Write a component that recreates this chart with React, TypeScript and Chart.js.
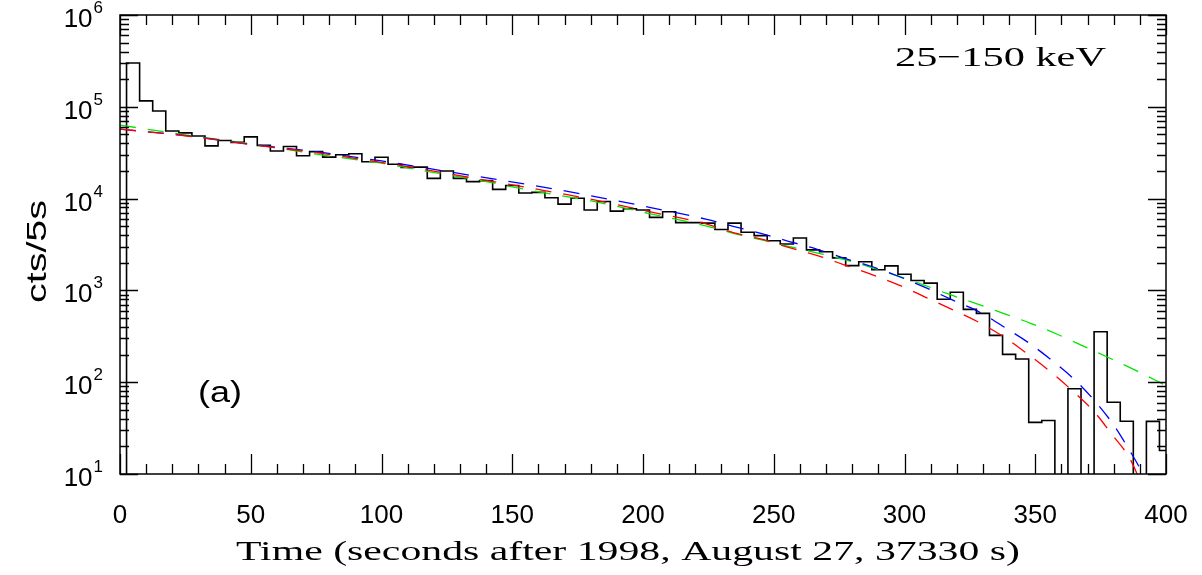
import React, { useEffect, useRef } from 'react';
import { Chart, registerables } from 'chart.js';

Chart.register(...registerables);

// ---- data ----
const binStart = 2.5; // left edge of the first 5 s bin
const binWidth = 5;
// counts per 5 s bin; 0 = empty bin (drawn down to the bottom of the axis)
const counts = [
  300000, 116000, 90000, 54500, 52000, 48000, 37500, 43000, 41000, 47000,
  38000, 33000, 37000, 29300, 32500, 28300, 30000, 30800, 25200, 28200,
  23700, 21900, 22000, 16600, 20000, 16600, 15300, 15700, 12600, 13900,
  11500, 11700, 10200, 8700, 10100, 7500, 9300, 7300, 7760, 7500,
  6250, 7200, 5470, 5470, 5400, 4600, 5400, 4300, 3950, 3470,
  3200, 3720, 2760, 2640, 2260, 1860, 2050, 1680, 1850, 1500,
  1280, 1200, 800, 953, 622, 562, 324, 201, 179, 36.5,
  38.3, 0, 85, 0, 355, 60.5, 37.5, 0, 37.4, 18,
];

const greenTime = [0, 25, 50, 75, 100, 113.7, 135.8, 157.8, 179.7, 202, 224.4, 234.5, 245.4, 255.6, 266.4, 277.2, 287.8, 298.3, 305.5, 316.4, 327.2, 337.8, 348.2, 358.4, 368.6, 379, 389, 400];
const greenCounts = [63100, 49500, 39500, 30500, 24300, 20700, 16100, 12200, 9480, 6920, 5020, 4190, 3550, 3020, 2570, 2160, 1760, 1410, 1200, 920, 723, 562, 438, 333, 246, 180, 132, 91.8];

const blueTime = [0, 25, 50, 75, 100, 113.7, 135.8, 157.8, 179.7, 202, 224.4, 234.5, 245.4, 255.6, 266.4, 277.2, 287.8, 298.3, 307.2, 318.9, 329.3, 338.9, 348.1, 357, 365.6, 373.2, 380, 385.9, 390, 392];
const blueCounts = [57000, 48600, 39100, 32400, 25700, 22300, 17600, 14000, 10800, 8090, 5940, 4990, 4150, 3430, 2820, 2230, 1810, 1400, 1100, 773, 568, 386, 261, 167, 103, 60.4, 34.2, 18.4, 11.5, 8.5];

const redTime = [0, 25, 50, 75, 100, 113.7, 135.8, 157.8, 179.7, 202, 224.4, 234.5, 245.4, 255.6, 266.4, 277.2, 287.8, 299.6, 308.1, 318.3, 328, 337.9, 347, 355.8, 364.2, 372.3, 379.2, 385.9, 390.5];
const redCounts = [57000, 48400, 38800, 31600, 24800, 21400, 16600, 12900, 9910, 7260, 5280, 4260, 3610, 2940, 2410, 1890, 1480, 1090, 841, 617, 456, 313, 204, 130, 80.7, 48.5, 27.3, 15.2, 8.0];

const xTickLabels = [0, 50, 100, 150, 200, 250, 300, 350, 400];
const xMinorStep = 10;
const yDecadeExponents = [1, 2, 3, 4, 5, 6];
const xTitle = 'Time (seconds after 1998, August 27, 37330 s)';
const yTitle = 'cts/5s';
const energyLabel = '25\u2212150 keV';
const panelLabel = '(a)';

const SANS = '"Liberation Sans", Arial, sans-serif';
const SERIF = '"Liberation Serif", "Times New Roman", serif';

function drawStretched(ctx: CanvasRenderingContext2D, text: string, font: string, left: number, baseline: number, width: number) {
  ctx.font = font;
  const w = ctx.measureText(text).width;
  ctx.save();
  ctx.translate(left, baseline);
  ctx.scale(width / w, 1);
  ctx.textAlign = 'left';
  ctx.textBaseline = 'alphabetic';
  ctx.fillText(text, 0, 0);
  ctx.restore();
}

const framePlugin = {
  id: 'pgplotFrame',
  afterDatasetsDraw(chart: any) {
    const { ctx, chartArea: a, scales } = chart;
    const xs = scales.x;
    const ys = scales.y;
    ctx.save();
    ctx.fillStyle = '#000';
    ctx.strokeStyle = '#000';

    // ticks
    ctx.lineWidth = 1.3;
    ctx.beginPath();
    for (let v = xs.min; v <= xs.max; v += xMinorStep) {
      const px = Math.round(xs.getPixelForValue(v)) + 0.5;
      const len = v % 50 === 0 ? 20 : 10;
      ctx.moveTo(px, a.bottom);
      ctx.lineTo(px, a.bottom - len);
      ctx.moveTo(px, a.top);
      ctx.lineTo(px, a.top + len);
    }
    for (const e of yDecadeExponents) {
      for (let m = 1; m <= 9; m++) {
        const v = m * Math.pow(10, e);
        if (v > ys.max) break;
        const py = Math.round(ys.getPixelForValue(v)) + 0.5;
        const len = m === 1 ? 18 : 9;
        ctx.moveTo(a.left, py);
        ctx.lineTo(a.left + len, py);
        ctx.moveTo(a.right, py);
        ctx.lineTo(a.right - len, py);
      }
    }
    ctx.stroke();

    // frame
    ctx.lineWidth = 1.5;
    ctx.strokeRect(a.left, a.top, a.right - a.left, a.bottom - a.top);

    // x tick labels
    ctx.font = '26px ' + SANS;
    ctx.textAlign = 'center';
    ctx.textBaseline = 'alphabetic';
    for (const v of xTickLabels) {
      ctx.fillText(String(v), xs.getPixelForValue(v), 523);
    }

    // y tick labels 10^n
    for (const e of yDecadeExponents) {
      const py = ys.getPixelForValue(Math.pow(10, e));
      ctx.font = '17px ' + SANS;
      ctx.textAlign = 'right';
      ctx.fillText(String(e), 103, py - 2);
      const sw = ctx.measureText(String(e)).width;
      ctx.font = '26px ' + SANS;
      ctx.fillText('10', 103 - sw - 1, py + 12);
    }

    // axis titles
    drawStretched(ctx, xTitle, '27px ' + SERIF, 236, 560, 784);
    ctx.save();
    ctx.translate(46, 303);
    ctx.rotate(-Math.PI / 2);
    drawStretched(ctx, yTitle, '28px ' + SANS, 0, 0, 103);
    ctx.restore();

    // annotations
    drawStretched(ctx, energyLabel, '28px ' + SERIF, 895, 66, 211);
    drawStretched(ctx, panelLabel, '30px ' + SANS, 198, 402, 44);

    ctx.restore();
  },
};

export default function App() {
  const canvasRef = useRef<HTMLCanvasElement | null>(null);

  useEffect(() => {
    const canvas = canvasRef.current;
    if (!canvas) return;

    const yMin = 10;
    // empty bins (and the outer edges) drop below the axis; clipped at the frame
    const floor = (c: number) => (c > 0 ? c : yMin / 10);

    const histPoints: { x: number; y: number }[] = [{ x: binStart, y: floor(0) }];
    counts.forEach((c, k) => {
      const left = binStart + k * binWidth;
      histPoints.push({ x: left, y: floor(c) });
      histPoints.push({ x: left + binWidth, y: floor(c) });
    });
    histPoints.push({ x: binStart + counts.length * binWidth, y: floor(0) });

    const curve = (t: number[], c: number[]) => t.map((x, i) => ({ x, y: c[i] }));

    const chart = new Chart(canvas, {
      type: 'line',
      data: {
        datasets: [
          {
            label: 'green model',
            data: curve(greenTime, greenCounts),
            borderColor: 'rgb(0,230,0)',
            borderWidth: 1.3,
            borderDash: [16, 12],
            pointRadius: 0,
            cubicInterpolationMode: 'monotone',
            fill: false,
            order: 2,
          },
          {
            label: 'blue model',
            data: curve(blueTime, blueCounts),
            borderColor: 'rgb(0,0,255)',
            borderWidth: 1.3,
            borderDash: [16, 12],
            pointRadius: 0,
            cubicInterpolationMode: 'monotone',
            fill: false,
            order: 1,
          },
          {
            label: 'red model',
            data: curve(redTime, redCounts),
            borderColor: 'rgb(255,0,0)',
            borderWidth: 1.3,
            borderDash: [16, 12],
            pointRadius: 0,
            cubicInterpolationMode: 'monotone',
            fill: false,
            order: 0,
          },
          {
            label: 'counts',
            data: histPoints,
            borderColor: '#000',
            borderWidth: 1.6,
            pointRadius: 0,
            tension: 0,
            fill: false,
            order: 5,
          },
        ],
      },
      options: {
        animation: false,
        responsive: false,
        devicePixelRatio: 1,
        layout: { padding: { left: 120, right: 36, top: 15, bottom: 101 } },
        plugins: { legend: { display: false }, tooltip: { enabled: false } },
        events: [],
        scales: {
          x: { type: 'linear', min: 0, max: 400, display: false },
          y: { type: 'logarithmic', min: yMin, max: 1000000, display: false },
        },
      },
      plugins: [framePlugin],
    });

    return () => chart.destroy();
  }, []);

  return (
    <div style={{ position: 'absolute', left: 0, top: 0, width: 1202, height: 575, background: '#fff' }}>
      <canvas ref={canvasRef} width={1202} height={575} style={{ display: 'block' }} />
    </div>
  );
}
